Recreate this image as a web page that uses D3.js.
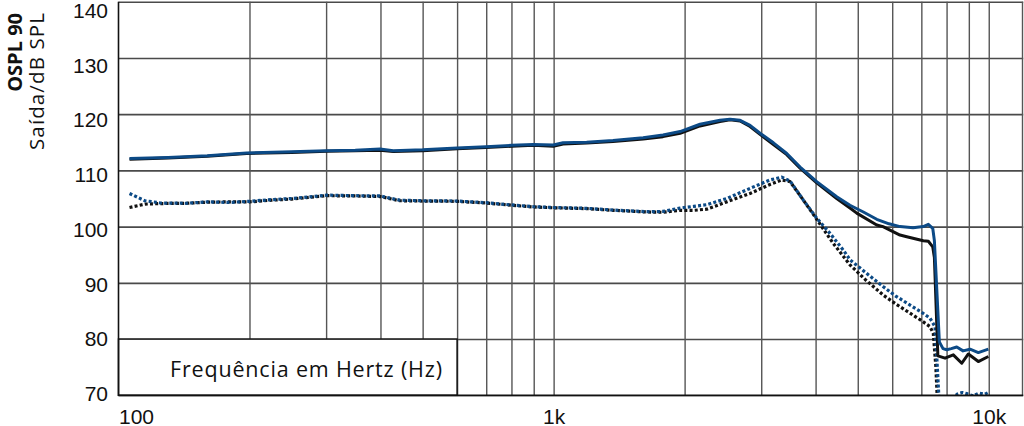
<!DOCTYPE html>
<html><head><meta charset="utf-8">
<script src="https://cdn.jsdelivr.net/npm/d3@7"></script>
<style>
html,body{margin:0;padding:0;background:#fff;}
svg{display:block;font-family:"Open Sans","Noto Sans",sans-serif;}
</style></head>
<body><svg id="c" width="1024" height="426"></svg>
<script>
// ---- data (Hz, dB SPL) ----
const yTicks = [70, 80, 90, 100, 110, 120, 130, 140];
const xGrid = [200,300,400,500,600,700,800,900,1000,2000,3000,4000,5000,6000,7000,8000,9000,10000];
const xLabelValues = [100, 1000, 10000];
const xLabelTexts = ["100", "1k", "10k"];
const yTitleBold = "OSPL 90";
const yTitle = "Saída/dB SPL";
const xTitle = "Frequência em Hertz (Hz)";

const blueSolid = [[106,112.1],[130,112.3],[160,112.6],[197,113.1],[250,113.3],[301,113.5],[350,113.6],[399,113.8],[428,113.5],[500,113.65],[600,114.0],[699,114.2],[801,114.45],[898,114.6],[998,114.5],[1051,114.9],[1191,115.0],[1369,115.3],[1606,115.8],[1784,116.3],[1953,116.9],[2170,118.2],[2412,118.9],[2543,119.1],[2682,118.9],[2828,118.0],[2981,116.6],[3200,114.9],[3434,113.0],[3685,110.6],[4024,108.0],[4473,105.3],[4798,103.8],[5150,102.6],[5528,101.3],[5900,100.5],[6252,100.0],[6700,99.8],[7073,100.0],[7264,100.4],[7435,99.7],[7500,97.5],[7700,79.5],[7850,78.3],[8007,78.1],[8200,78.3],[8442,78.6],[8730,77.9],[9057,78.2],[9463,77.6],[9979,78.2]];
const blackSolid = [[106,112.0],[130,112.2],[160,112.5],[197,113.0],[250,113.2],[301,113.4],[350,113.5],[399,113.6],[428,113.35],[500,113.5],[600,113.85],[699,114.05],[801,114.3],[898,114.45],[998,114.3],[1051,114.7],[1191,114.85],[1369,115.15],[1606,115.6],[1784,116.0],[1953,116.6],[2170,117.9],[2412,118.7],[2543,119.0],[2682,118.8],[2828,117.8],[2981,116.4],[3200,114.6],[3434,112.8],[3685,110.4],[4024,107.8],[4473,105.0],[4798,103.3],[4973,102.4],[5528,100.3],[5715,100.0],[6252,98.5],[6480,98.2],[7073,97.5],[7264,97.4],[7435,96.4],[7500,94.5],[7640,77.0],[7935,76.6],[8290,77.2],[8670,75.7],[8976,77.35],[9463,76.0],[9979,76.9]];
const blueDotted = [[106,105.9],[115,104.6],[125,104.2],[143,104.15],[160,104.4],[180,104.3],[200,104.5],[225,104.8],[250,105.0],[275,105.3],[301,105.6],[350,105.5],[399,105.45],[443,104.7],[500,104.6],[600,104.55],[699,104.25],[801,103.85],[898,103.55],[998,103.4],[1191,103.25],[1369,102.95],[1637,102.65],[1784,102.7],[1953,103.3],[2100,103.6],[2249,103.9],[2499,105.0],[2828,106.8],[3143,108.3],[3344,108.8],[3495,108.1],[3750,104.7],[4024,101.5],[4317,98.8],[4633,95.8],[4798,94.1],[5200,91.9],[5725,89.3],[6100,87.7],[6594,86.05],[7000,84.8],[7330,83.7],[7526,82.2],[7605,76.0],[7700,68.0],[8300,66.0],[8450,70.2],[8700,70.5],[8900,70.3],[9200,69.9],[9500,70.4],[9800,70.2],[9979,70.5]];
const blackDotted = [[106,103.4],[115,104.0],[125,104.1],[143,104.15],[160,104.35],[180,104.4],[200,104.4],[225,104.7],[250,104.9],[275,105.2],[301,105.5],[350,105.45],[399,105.35],[443,104.6],[500,104.55],[600,104.5],[699,104.2],[801,103.8],[898,103.5],[998,103.35],[1191,103.2],[1369,102.9],[1637,102.6],[1784,102.55],[1953,102.9],[2100,102.9],[2249,103.1],[2499,104.4],[2828,105.9],[3143,107.5],[3344,108.3],[3495,108.0],[3750,104.7],[4024,101.3],[4394,97.0],[4798,93.2],[5200,90.6],[5725,87.8],[6100,86.3],[6594,84.6],[7000,83.3],[7330,82.2],[7458,81.0],[7560,75.0],[7650,66.0],[9979,66.0]];

const series = [
  {data: blackDotted, color: "#111", dash: "3,2.2"},
  {data: blueDotted, color: "#0c4a86", dash: "3,2.2"},
  {data: blackSolid, color: "#111", dash: null},
  {data: blueSolid, color: "#0c4a86", dash: null}
];

// ---- layout ----
const svg = d3.select("#c");
const L = 118.5, R = 1023.2, T = 1.7, B = 395.3;
const x = d3.scaleLog().domain([100, 12000]).range([L, R]);
const y = d3.scaleLinear().domain([70, 140]).range([B, T]);
const yLab = d3.scaleLinear().domain([70, 140]).range([393, 10]);

// grid: horizontal
const gy = svg.append("g").attr("transform", `translate(${L},0)`)
  .call(d3.axisLeft(y).tickValues(yTicks).tickSize(-(R - L)).tickFormat(""));
gy.select(".domain").remove();
gy.selectAll(".tick line").attr("stroke", "#4a4a4a").attr("stroke-width", 1.6);

// grid: vertical
const gx = svg.append("g").attr("transform", `translate(0,${B})`)
  .call(d3.axisBottom(x).tickValues(xGrid).tickSize(-(B - T)).tickFormat(""));
gx.select(".domain").remove();
gx.selectAll(".tick line").attr("stroke", "#555").attr("stroke-width", 1.4);

// right border
svg.append("line").attr("x1", R - 0.7).attr("x2", R - 0.7).attr("y1", T).attr("y2", B)
  .attr("stroke", "#555").attr("stroke-width", 1.4);

// curves
const clipId = "plotclip";
svg.append("clipPath").attr("id", clipId).append("rect")
  .attr("x", L).attr("y", T).attr("width", R - L).attr("height", B - T);
const line = d3.line().x(d => x(d[0])).y(d => y(d[1]));
const gc = svg.append("g").attr("clip-path", `url(#${clipId})`);
series.forEach(s => {
  const p = gc.append("path").attr("d", line(s.data)).attr("fill", "none")
    .attr("stroke", s.color).attr("stroke-width", s.dash ? 3.2 : 3)
    .attr("stroke-linejoin", "round");
  if (s.dash) p.attr("stroke-dasharray", s.dash);
});

// legend box with x title
svg.append("rect").attr("x", L).attr("y", y(80)).attr("width", x(600) - L).attr("height", B - y(80))
  .attr("fill", "#fff").attr("stroke", "#111").attr("stroke-width", 1.5);
svg.append("text").attr("x", 170).attr("y", 376.7).attr("text-anchor", "start")
  .attr("font-size", 21.5).attr("fill", "#111")
  .attr("textLength", 272).attr("lengthAdjust", "spacing").text(xTitle);

// axes lines
svg.append("line").attr("x1", L).attr("x2", L).attr("y1", T).attr("y2", B + 0.7).attr("stroke", "#111").attr("stroke-width", 1.6);
svg.append("line").attr("x1", L).attr("x2", R).attr("y1", B).attr("y2", B).attr("stroke", "#111").attr("stroke-width", 1.6);

// y labels
const ly = svg.append("g").attr("transform", "translate(108,0)")
  .call(d3.axisLeft(yLab).tickValues(yTicks).tickSize(0).tickPadding(0).tickFormat(d3.format("d")));
ly.select(".domain").remove();
ly.selectAll("text").attr("font-size", 21).attr("fill", "#111").attr("font-family", null).attr("dy", "0.36em");

// x labels
const lx = svg.append("g").attr("transform", "translate(0,423.5)")
  .call(d3.axisBottom(x).tickValues(xLabelValues).tickSize(0).tickPadding(0)
    .tickFormat((d, i) => xLabelTexts[i]));
lx.select(".domain").remove();
lx.selectAll("text").attr("font-size", 21).attr("fill", "#111").attr("font-family", null).attr("dy", 0)
  .attr("text-anchor", (d, i) => i === 0 ? "start" : "middle");

// y titles
svg.append("text").attr("transform", "translate(22,13) rotate(-90)").attr("text-anchor", "end")
  .attr("font-size", 20).attr("font-weight", "bold").attr("fill", "#111").text(yTitleBold);
svg.append("text").attr("transform", "translate(44,13) rotate(-90)").attr("text-anchor", "end")
  .attr("font-size", 20.5).attr("fill", "#111")
  .attr("textLength", 137).attr("lengthAdjust", "spacing").text(yTitle);
</script></body></html>
